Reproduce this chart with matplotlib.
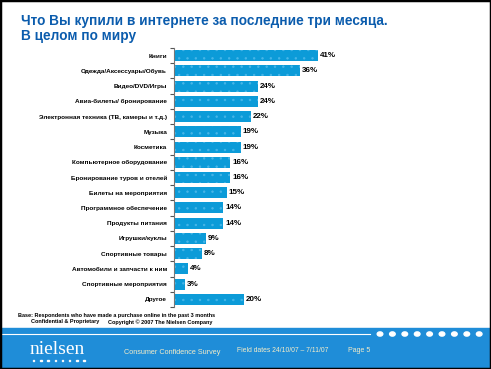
import matplotlib.pyplot as plt
from matplotlib.patches import Rectangle, Circle

plt.rcParams['font.family'] = ['Liberation Sans', 'DejaVu Sans']
plt.rcParams['hatch.linewidth'] = 0.5

categories = [
    'Книги',
    'Одежда/Аксессуары/Обувь',
    'Видео/DVD/Игры',
    'Авиа-билеты/ бронирование',
    'Электронная техника (ТВ, камеры и т.д.)',
    'Музыка',
    'Косметика',
    'Компьютерное оборудование',
    'Бронирование туров и отелей',
    'Билеты на мероприятия',
    'Программное обеспечение',
    'Продукты питания',
    'Игрушки/куклы',
    'Спортивные товары',
    'Автомобили и запчасти к ним',
    'Спортивные мероприятия',
    'Другое',
]
values = [41, 36, 24, 24, 22, 19, 19, 16, 16, 15, 14, 14, 9, 8, 4, 3, 20]

title = 'Что Вы купили в интернете за последние три месяца.\nВ целом по миру'
note1 = 'Base: Respondents who have made a purchase online in the past 3 months'
note2a = 'Confidential & Proprietary'
note2b = 'Copyright © 2007 The Nielsen Company'

W, H = 491, 369
fig = plt.figure(figsize=(W / 100, H / 100), dpi=100)


def fx(px):
    return px / W


def fy(py):
    return 1 - py / H


# bars
ax = fig.add_axes([fx(174), fy(307), fx(3.505 * 45), fy(48) - fy(307)])
ypos = list(range(len(categories)))
bars = ax.barh(ypos, values, height=0.72, color='#0c9bd8',
               edgecolor='#48b6e8', hatch='..', linewidth=0)
for b in bars:
    b.set_edgecolor('#48b6e8')
ax.set_ylim(len(categories) - 0.5, -0.5)
ax.set_xlim(0, 45)
ax.set_yticks(ypos)
ax.set_yticklabels(categories, fontsize=4.6, fontweight='bold')
ax.tick_params(axis='y', length=0, pad=5)
ax.set_yticks([i + 0.5 for i in range(-1, len(categories))], minor=True)
ax.tick_params(axis='y', which='minor', length=3, width=0.8, color='#555555')
ax.set_xticks([])
for s in ['top', 'right', 'bottom']:
    ax.spines[s].set_visible(False)
ax.spines['left'].set_color('#777777')
ax.spines['left'].set_linewidth(0.8)
for y, v in zip(ypos, values):
    ax.text(v + 0.6, y, f'{v}%', va='center', ha='left',
            fontsize=5.8, fontweight='bold')

# title
fig.text(fx(21), fy(14), title, va='top', ha='left', fontsize=9.8,
         fontweight='bold', color='#0b5cad', linespacing=1.05)

# notes
fig.text(fx(18), fy(316), note1, fontsize=4.0, fontweight='bold', va='center')
fig.text(fx(31), fy(322), note2a, fontsize=4.0, fontweight='bold',
         va='center')
fig.text(fx(108), fy(322), note2b, fontsize=4.0, fontweight='bold',
         va='center')

# footer band
fig.patches.append(Rectangle((0, 0), 1, fy(328), transform=fig.transFigure,
                             color='#1f8dd8', zorder=0))
fig.add_artist(plt.Line2D([0, fx(370)], [fy(334), fy(334)],
                          transform=fig.transFigure, color='white', lw=0.8))
for i in range(9):
    cx = 380 + i * 12.4
    fig.add_artist(Circle((fx(cx), fy(334)), fx(2.8),
                          transform=fig.transFigure, color='white'))
fig.text(fx(30), fy(349), 'nielsen', fontsize=14, color='white',
         family='Liberation Serif', va='center', ha='left')
for i in range(8):
    fig.add_artist(Rectangle((fx(33 + i * 7.2), fy(361)), fx(1.3), fy(0) - fy(1.3),
                             transform=fig.transFigure, color='white'))
fig.text(fx(124), fy(353), 'Consumer Confidence Survey', fontsize=5.2,
         color='#f3ecc8', va='center')
fig.text(fx(237), fy(351), 'Field dates 24/10/07 – 7/11/07', fontsize=4.9,
         color='#f3ecc8', va='center')
fig.text(fx(348), fy(351), 'Page 5', fontsize=5.0, color='#f3ecc8',
         va='center')

# border
fig.patches.append(Rectangle((0, 0), 1, 1, transform=fig.transFigure,
                             fill=False, edgecolor='black', lw=2.5, zorder=5))

fig.savefig('out.png', dpi=100)
